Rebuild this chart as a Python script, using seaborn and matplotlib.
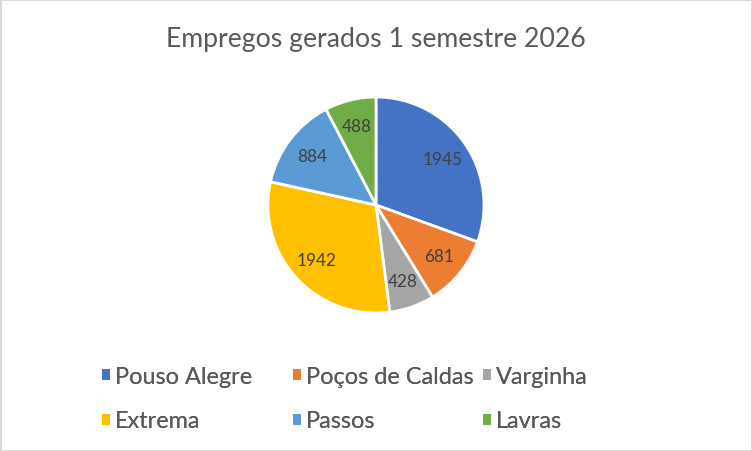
import matplotlib
matplotlib.use("Agg")
import matplotlib.pyplot as plt
from matplotlib.patches import Patch
import seaborn as sns

# data
cidades = ["Pouso Alegre", "Poços de Caldas", "Varginha", "Extrema", "Passos", "Lavras"]
empregos = [1945, 681, 428, 1942, 884, 488]
cores = ["#4472C4", "#ED7D31", "#A5A5A5", "#FFC000", "#5B9BD5", "#70AD47"]
titulo = "Empregos gerados 1 semestre 2026"

sns.set_theme(style="white")
plt.rcParams['font.family'] = ['Lato', 'DejaVu Sans']

W, H = 752, 452
fig = plt.figure(figsize=(W / 100, H / 100), dpi=100)
fig.patch.set_facecolor("white")
fig.patch.set_edgecolor("#D9D9D9")
fig.patch.set_linewidth(2)

# pie centre and radius in pixels
cx, cy, r = 376, 206, 108
ax = fig.add_axes([(cx - r) / W, 1 - (cy + r) / H, 2 * r / W, 2 * r / H])

wedges, _, autotexts = ax.pie(
    empregos, colors=cores, startangle=90, counterclock=False,
    autopct=lambda p: "{:.0f}".format(p * sum(empregos) / 100),
    pctdistance=0.75,
    wedgeprops=dict(edgecolor="white", linewidth=2),
    textprops=dict(color="#404040", fontsize=12.3),
)
ax.set_xlim(-1, 1)
ax.set_ylim(-1, 1)
ax.set_aspect("equal")
ax.axis("off")

fig.text(0.5, 1 - 40 / H, titulo, ha="center", va="center",
         fontsize=19.2, color="#595959")

# legend: three columns, two rows like Excel
handles = [Patch(facecolor=c, edgecolor="none") for c in cores]
col_x = [102, 293, 483]
for j in range(3):
    hs = [handles[j], handles[j + 3]]
    ls = [cidades[j], cidades[j + 3]]
    leg = fig.legend(hs, ls, loc="upper left",
                     bbox_to_anchor=(col_x[j] / W, 1 - 367 / H),
                     frameon=False, fontsize=16.9, handlelength=0.34,
                     handleheight=0.34, handletextpad=0.2,
                     labelspacing=1.0, borderpad=0, borderaxespad=0,
                     labelcolor="#595959")
    fig.add_artist(leg)

fig.savefig("out.png", dpi=100)
